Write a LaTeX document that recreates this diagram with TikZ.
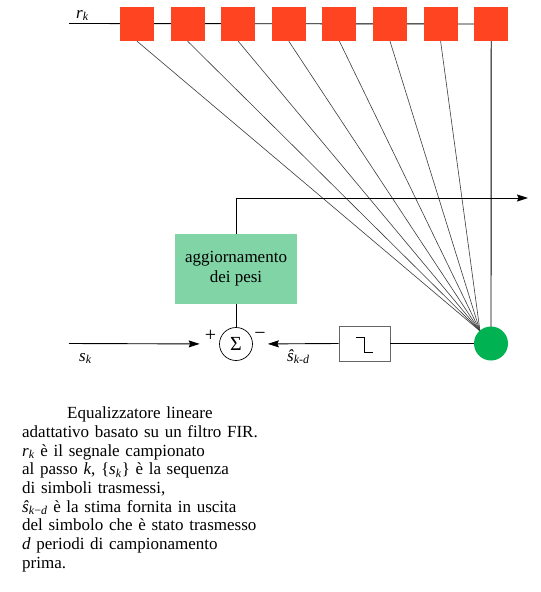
\documentclass[tikz,border=0pt]{standalone}
\usepackage{fontspec}
\setmainfont{Liberation Serif}
\usetikzlibrary{arrows.meta,backgrounds,calc}
\definecolor{tapred}{RGB}{255,68,34}
\definecolor{combgreen}{RGB}{0,178,82}
\definecolor{updgreen}{RGB}{128,212,166}
\definecolor{fangray}{RGB}{60,60,60}
\begin{document}
\begin{tikzpicture}[x=1pt,y=-1pt,
  font=\fontsize{17}{18.7}\selectfont,
  wire/.style={line width=0.9pt,black},
  fanline/.style={line width=0.6pt,fangray},
  arrowwire/.style={wire,-{Stealth[length=11pt,width=7pt,inset=1.5pt]}},
  tapbox/.style={fill=tapred,draw=none,minimum size=34pt,inner sep=0pt},
  combnode/.style={circle,fill=combgreen,draw=none,minimum size=34pt,inner sep=0pt},
  updbox/.style={fill=updgreen,draw=none,minimum width=122pt,minimum height=70pt,align=center,inner sep=0pt},
  sumnode/.style={circle,draw=black,line width=0.7pt,minimum size=33pt,inner sep=0pt,font=\fontsize{20}{22}\selectfont},
  decbox/.style={draw=black!60,line width=0.8pt,minimum width=51pt,minimum height=35pt,inner sep=0pt},
  lbl/.style={inner sep=0pt},
  signlbl/.style={inner sep=0pt,font=\fontsize{20}{22}\selectfont}
]
\useasboundingbox (0,0) rectangle (541,592);

% tapped delay line
\foreach \i in {1,...,8}{
  \node[tapbox] (b\i) at ({137+50.6*(\i-1)},24) {};
}
\coordinate (rin) at (69,23.5);
\node[combnode] (g) at (491,343.5) {};
\coordinate (gin) at (480,331);
\node[updbox] (upd) at (236,269) {aggiornamento\\[1pt]dei pesi};
\node[sumnode] (sum) at (236,344) {Σ};
\node[decbox] (dec) at (364.5,343.5) {};
\coordinate (sin) at (69,343.5);
\coordinate (out) at (528,198);

\begin{scope}[on background layer]
  \fill[white] (0,0) rectangle (541,592);
  \draw[wire] (rin) -- (b8.center);
  \foreach \i in {1,...,7}{
    \draw[fanline] (b\i.south) -- (gin);
  }
  \draw[wire] (b8.south) -- (g.center);
\end{scope}

% loop
\draw[arrowwire] (upd.north) |- (out);
\draw[wire] (upd.south) -- (sum.north);
\draw[arrowwire,shorten >=19.5pt] (sin) -- (sum.west);
\draw[arrowwire,shorten >=15pt] (dec.west) -- (sum.east);
\draw[wire] (g.west) -- (dec.east);
% decision symbol
\draw[line width=0.9pt] ($(dec.center)+(-8.5,-6.5)$) -- ++(8,0) -- ++(0,15) -- ++(9,0);

% labels
\node[lbl,anchor=base west] (lr) at (76,18) {\textit{r}\textsubscript{\textit{k}}};
\node[lbl,anchor=base west] (ls) at (79,361) {\textit{s}\textsubscript{\textit{k}}};
\node[lbl,anchor=base west] (lsh) at (287,361) {\textit{ŝ}\textsubscript{\textit{k-d}}};
\node[signlbl] (lplus) at (210.5,336) {+};
\node[signlbl] (lminus) at (260,336) {−};

% caption
\node[lbl,anchor=base west,align=left,text width=300pt] (cap) at (22,418.7) {%
\hspace*{45pt}Equalizzatore lineare\\
adattativo basato su un filtro FIR.\\
\textit{r}\textsubscript{\textit{k}} è il segnale campionato\\
al passo \textit{k}, \{\textit{s}\textsubscript{\textit{k}}\} è la sequenza\\
di simboli trasmessi,\\
\textit{ŝ}\textsubscript{\textit{k}−\textit{d}} è la stima fornita in uscita\\
del simbolo che è stato trasmesso\\
\textit{d} periodi di campionamento\\
prima.};
\end{tikzpicture}
\end{document}
